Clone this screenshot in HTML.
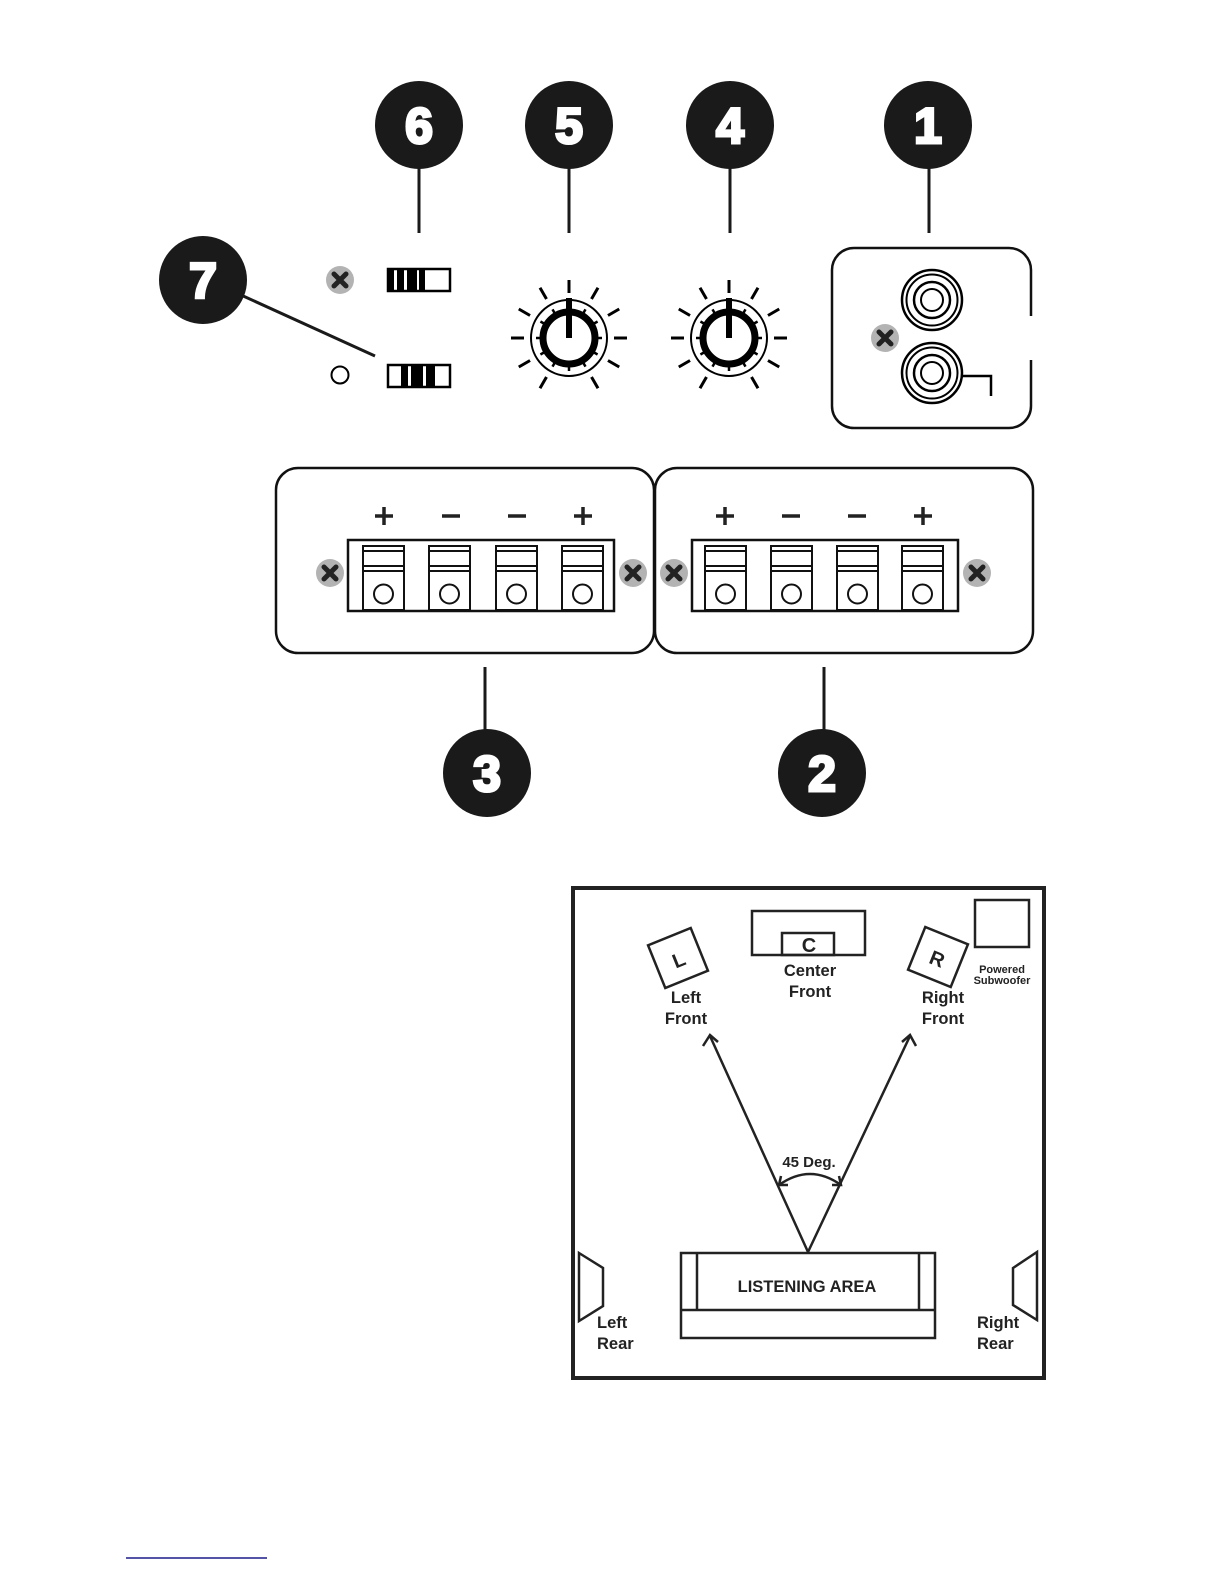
<!DOCTYPE html>
<html><head><meta charset="utf-8"><style>html,body{margin:0;padding:0;background:#fff;width:1224px;height:1584px;overflow:hidden}svg{display:block}</style></head>
<body>
<svg width="1224" height="1584" viewBox="0 0 1224 1584" xmlns="http://www.w3.org/2000/svg" font-family="Liberation Sans, sans-serif">
<defs>
<g id="scr"><circle r="14" fill="#b3b3b3"/><path d="M-6,-6L6,6M6,-6L-6,6" stroke="#222" stroke-width="5" stroke-linecap="round"/></g>
<line id="ray" x1="0" y1="-45" x2="0" y2="-58" stroke="#000" stroke-width="3"/>
<line id="tk" x1="0" y1="-26" x2="0" y2="-33" stroke="#000" stroke-width="2.5"/>
<g id="knob">
<use href="#ray"/><use href="#ray" transform="rotate(30)"/><use href="#ray" transform="rotate(60)"/><use href="#ray" transform="rotate(90)"/><use href="#ray" transform="rotate(120)"/><use href="#ray" transform="rotate(150)"/><use href="#ray" transform="rotate(-30)"/><use href="#ray" transform="rotate(-60)"/><use href="#ray" transform="rotate(-90)"/><use href="#ray" transform="rotate(-120)"/><use href="#ray" transform="rotate(-150)"/>
<circle r="38" fill="none" stroke="#000" stroke-width="2"/>
<circle r="26" fill="none" stroke="#000" stroke-width="7"/>
<use href="#tk" transform="rotate(30)"/><use href="#tk" transform="rotate(60)"/><use href="#tk" transform="rotate(90)"/><use href="#tk" transform="rotate(120)"/><use href="#tk" transform="rotate(150)"/><use href="#tk" transform="rotate(180)"/><use href="#tk" transform="rotate(-30)"/><use href="#tk" transform="rotate(-60)"/><use href="#tk" transform="rotate(-90)"/><use href="#tk" transform="rotate(-120)"/><use href="#tk" transform="rotate(-150)"/>
<line x1="0" y1="0" x2="0" y2="-40" stroke="#000" stroke-width="6"/>
</g>
<g id="term"><rect x="0" y="0" width="41" height="64" fill="#fff" stroke="#111" stroke-width="2"/><line x1="0" y1="5" x2="41" y2="5" stroke="#111" stroke-width="2"/><line x1="0" y1="20" x2="41" y2="20" stroke="#111" stroke-width="2"/><line x1="0" y1="25" x2="41" y2="25" stroke="#111" stroke-width="2"/><circle cx="20.5" cy="48" r="9.5" fill="none" stroke="#111" stroke-width="2"/></g>
<g id="rca"><circle r="30" fill="none" stroke="#000" stroke-width="2.5"/><circle r="25.5" fill="none" stroke="#000" stroke-width="2"/><circle r="18" fill="none" stroke="#000" stroke-width="2.5"/><circle r="11" fill="none" stroke="#000" stroke-width="2"/></g>
</defs>

<g stroke="#1a1a1a" stroke-width="3">
<line x1="419" y1="160" x2="419" y2="233"/><line x1="569" y1="160" x2="569" y2="233"/><line x1="730" y1="160" x2="730" y2="233"/><line x1="929" y1="160" x2="929" y2="233"/>
<line x1="230" y1="290" x2="375" y2="356"/>
<line x1="485" y1="667" x2="485" y2="740"/><line x1="824" y1="667" x2="824" y2="740"/>
</g>
<g fill="#1a1a1a"><circle cx="419" cy="125" r="44"/><circle cx="569" cy="125" r="44"/><circle cx="730" cy="125" r="44"/><circle cx="928" cy="125" r="44"/><circle cx="203" cy="280" r="44"/><circle cx="487" cy="773" r="44"/><circle cx="822" cy="773" r="44"/></g>
<g fill="#fff" stroke="#fff" stroke-width="3" font-weight="bold" font-size="50" text-anchor="middle">
<text x="419" y="143">6</text><text x="569" y="143">5</text><text x="730" y="143">4</text><text x="928" y="143">1</text><text x="203" y="298">7</text><text x="487" y="791">3</text><text x="822" y="791">2</text></g>

<use href="#scr" x="340" y="280"/>
<circle cx="340" cy="375" r="8.5" fill="none" stroke="#000" stroke-width="2"/>
<rect x="388" y="269" width="62" height="22" fill="#fff" stroke="#000" stroke-width="2.5"/>
<g fill="#000"><rect x="388" y="269" width="6" height="22"/><rect x="397" y="269" width="7" height="22"/><rect x="407" y="269" width="10" height="22"/><rect x="419" y="269" width="6" height="22"/></g>
<rect x="388" y="365" width="62" height="22" fill="#fff" stroke="#000" stroke-width="2.5"/>
<g fill="#000"><rect x="401" y="365" width="7" height="22"/><rect x="411" y="365" width="12" height="22"/><rect x="426" y="365" width="9" height="22"/></g>

<use href="#knob" x="569" y="338"/>
<use href="#knob" x="729" y="338"/>

<path d="M1031,316 V270 a22,22 0 0 0 -22,-22 H854 a22,22 0 0 0 -22,22 V406 a22,22 0 0 0 22,22 H1009 a22,22 0 0 0 22,-22 V360" fill="none" stroke="#111" stroke-width="2.5"/>
<use href="#rca" x="932" y="300"/><use href="#rca" x="932" y="373"/>
<use href="#scr" x="885" y="338"/>
<path d="M962,376 H991 V396" fill="none" stroke="#000" stroke-width="2.5"/>

<rect x="276" y="468" width="378" height="185" rx="22" fill="none" stroke="#111" stroke-width="2.5"/>
<rect x="655" y="468" width="378" height="185" rx="22" fill="none" stroke="#111" stroke-width="2.5"/>
<rect x="348" y="540" width="266" height="71" fill="#fff" stroke="#111" stroke-width="2.5"/>
<rect x="692" y="540" width="266" height="71" fill="#fff" stroke="#111" stroke-width="2.5"/>
<use href="#term" x="363" y="546"/><use href="#term" x="429" y="546"/><use href="#term" x="496" y="546"/><use href="#term" x="562" y="546"/>
<use href="#term" x="705" y="546"/><use href="#term" x="771" y="546"/><use href="#term" x="837" y="546"/><use href="#term" x="902" y="546"/>
<use href="#scr" x="330" y="573"/><use href="#scr" x="633" y="573"/><use href="#scr" x="674" y="573"/><use href="#scr" x="977" y="573"/>
<g stroke="#222" stroke-width="3.5"><path d="M375,516h18M384,507v18M442,516h18M508,516h18M574,516h18M583,507v18"/><path d="M716,516h18M725,507v18M782,516h18M848,516h18M914,516h18M923,507v18"/></g>

<rect x="573" y="888" width="471" height="490" fill="none" stroke="#222" stroke-width="4"/>
<rect x="752" y="911" width="113" height="44" fill="none" stroke="#222" stroke-width="2.5"/>
<rect x="782" y="933" width="52" height="22" fill="none" stroke="#222" stroke-width="2.5"/>
<rect x="975" y="900" width="54" height="47" fill="none" stroke="#222" stroke-width="2.5"/>
<g transform="translate(678,958) rotate(-22)"><rect x="-23" y="-23" width="46" height="46" fill="none" stroke="#222" stroke-width="2.5"/><text y="9" font-size="20" font-weight="bold" text-anchor="middle" fill="#222">L</text></g>
<g transform="translate(938,957) rotate(22)"><rect x="-23" y="-23" width="46" height="46" fill="none" stroke="#222" stroke-width="2.5"/><text y="9" font-size="20" font-weight="bold" text-anchor="middle" fill="#222">R</text></g>
<g font-weight="bold" fill="#222" text-anchor="middle" font-size="16.5">
<text x="809" y="952" font-size="20">C</text>
<text x="810" y="976">Center</text><text x="810" y="997">Front</text>
<text x="686" y="1003">Left</text><text x="686" y="1024">Front</text>
<text x="943" y="1003">Right</text><text x="943" y="1024">Front</text>
<text x="1002" y="973" font-size="11">Powered</text><text x="1002" y="984" font-size="11">Subwoofer</text>
<text x="809" y="1167" font-size="15">45 Deg.</text>
<text x="807" y="1292" font-size="16.5">LISTENING AREA</text>
</g>
<g font-weight="bold" fill="#222" font-size="16.5"><text x="597" y="1328">Left</text><text x="597" y="1349">Rear</text><text x="977" y="1328">Right</text><text x="977" y="1349">Rear</text></g>
<g stroke="#222" stroke-width="2.5" fill="none">
<path d="M808,1252 L710,1036 M808,1252 L910,1036"/>
<path d="M703,1046 L710,1035 L718,1042 M902,1042 L910,1035 L916,1046"/>
<path d="M779,1185 Q810,1163 841,1185"/>
<path d="M781,1176 L779,1185 L788,1185 M832,1185 L841,1185 L839,1176"/>
<rect x="681" y="1253" width="254" height="85"/>
<line x1="681" y1="1310" x2="935" y2="1310"/>
<line x1="697" y1="1253" x2="697" y2="1310"/><line x1="919" y1="1253" x2="919" y2="1310"/>
<path d="M579,1253 L603,1268 L603,1306 L579,1321 Z"/>
<path d="M1037,1252 L1013,1268 L1013,1305 L1037,1320 Z"/>
</g>
<line x1="126" y1="1558" x2="267" y2="1558" stroke="#1a1a8a" stroke-width="1.5"/>
</svg>
</body></html>
